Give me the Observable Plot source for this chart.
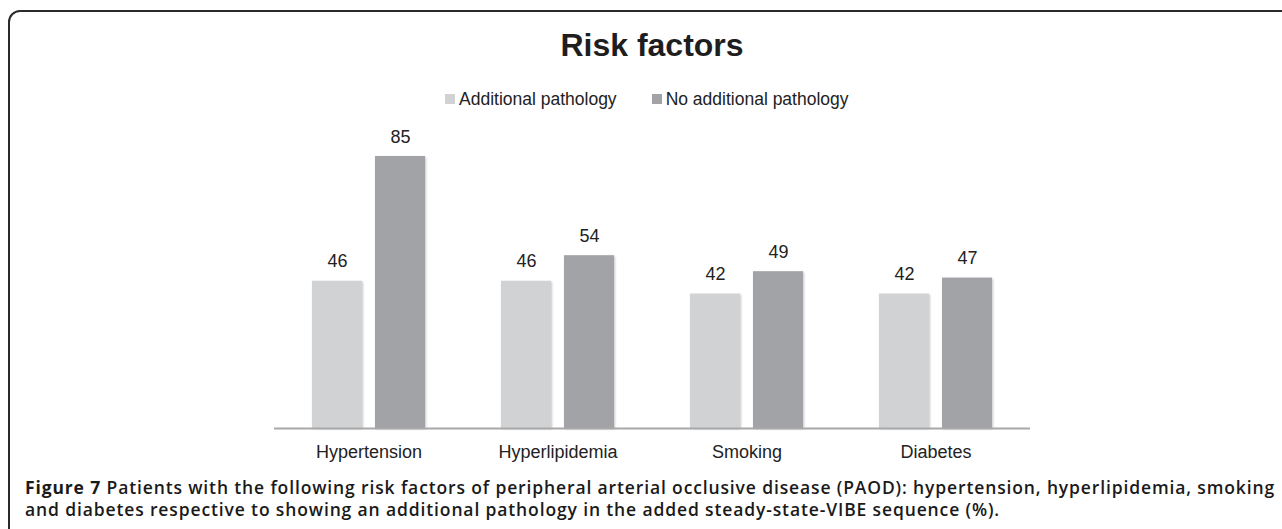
<!DOCTYPE html>
<html>
<head>
<meta charset="utf-8">
<script src="https://cdn.jsdelivr.net/npm/d3@7"></script>
<script src="https://cdn.jsdelivr.net/npm/@observablehq/plot@0.6"></script>
<style>
  html, body { margin: 0; padding: 0; background: #fff; }
  body { width: 1282px; height: 529px; overflow: hidden; position: relative; font-family: "Liberation Sans", Arial, sans-serif; color: #222; }
  #frame { position: absolute; left: 8px; top: 10px; width: 1400px; height: 700px; border: 2px solid #2a2a2a; border-radius: 12px; box-sizing: border-box; }
  #title { position: absolute; left: 452px; width: 400px; top: 29px; text-align: center; font-size: 32px; line-height: 32px; font-weight: bold; color: #1e1e1e; }
  #legend { position: absolute; left: 445px; top: 91px; font-size: 17.5px; line-height: 17.5px; display: flex; align-items: flex-start; white-space: nowrap; color: #222; }
  .item { display: flex; align-items: flex-start; }
  .sw { width: 10px; height: 10px; margin-top: 3px; margin-right: 4px; }
  #chart { position: absolute; left: 0; top: 115px; }
  #chart g[aria-label="bar"] rect { filter: drop-shadow(1px 1px 1.2px rgba(0,0,0,0.22)); }
  #caption { position: absolute; left: 25px; top: 476px; font-family: "Open Sans", sans-serif; font-size: 17.5px; line-height: 22px; font-weight: 600; color: #1a1a1a; white-space: nowrap; }
  #caption div { display: inline-block; }
  #caption b { font-weight: 700; }
</style>
</head>
<body>
<div id="frame"></div>
<div id="title"></div>
<div id="legend"></div>
<div id="chart"></div>
<div id="caption"></div>
<script>
const title = "Risk factors";
const categories = ["Hypertension", "Hyperlipidemia", "Smoking", "Diabetes"];
const seriesNames = ["Additional pathology", "No additional pathology"];
const additionalPathology = [46, 46, 42, 42];
const noAdditionalPathology = [85, 54, 49, 47];
const seriesColors = ["#d1d2d4", "#a2a3a7"];
const captionLabel = "Figure 7";
const captionLines = [
  "Patients with the following risk factors of peripheral arterial occlusive disease (PAOD): hypertension, hyperlipidemia, smoking",
  "and diabetes respective to showing an additional pathology in the added steady-state-VIBE sequence (%)."
];

document.getElementById("title").textContent = title;

const legend = document.getElementById("legend");
seriesNames.forEach((name, i) => {
  const item = document.createElement("div");
  item.className = "item";
  if (i > 0) item.style.marginLeft = "35px";
  const sw = document.createElement("div");
  sw.className = "sw";
  sw.style.background = seriesColors[i];
  const t = document.createElement("span");
  t.textContent = name;
  item.appendChild(sw);
  item.appendChild(t);
  legend.appendChild(item);
});

const cap = document.getElementById("caption");
const l1 = document.createElement("div");
const b = document.createElement("b");
b.textContent = captionLabel;
l1.appendChild(b);
l1.appendChild(document.createTextNode(" " + captionLines[0]));
const l2 = document.createElement("div");
l2.textContent = captionLines[1];
cap.appendChild(l1);
cap.appendChild(document.createElement("br"));
cap.appendChild(l2);
// fit first caption line to the reference line width
const targetWidth = 1250;
const w1 = l1.getBoundingClientRect().width;
const nChars = (captionLabel + " " + captionLines[0]).length;
const ls = (targetWidth - w1) / nChars;
cap.style.letterSpacing = ls + "px";

const rowsA = categories.map((c, i) => ({category: c, series: seriesNames[0], value: additionalPathology[i]}));
const rowsB = categories.map((c, i) => ({category: c, series: seriesNames[1], value: noAdditionalPathology[i]}));

const plot = Plot.plot({
  width: 1282,
  height: 358,
  marginLeft: 274,
  marginRight: 252,
  marginTop: 41,
  marginBottom: 45,
  style: {fontFamily: "'Liberation Sans', Arial, sans-serif", fontSize: "18px", color: "#222", background: "transparent", overflow: "visible"},
  x: {domain: categories, paddingInner: 0.402, paddingOuter: 0.201, tickSize: 0, tickPadding: 17, label: null},
  y: {domain: [0, 85], axis: null},
  marks: [
    Plot.barY(rowsA, {x: "category", y: "value", fill: seriesColors[0], insetRight: 63}),
    Plot.barY(rowsB, {x: "category", y: "value", fill: seriesColors[1], insetLeft: 63}),
    Plot.text(rowsA, {x: "category", y: "value", text: d => String(d.value), dx: -31.5, dy: -14, lineAnchor: "bottom", fill: "#222", fontSize: 18}),
    Plot.text(rowsB, {x: "category", y: "value", text: d => String(d.value), dx: 31.5, dy: -14, lineAnchor: "bottom", fill: "#222", fontSize: 18}),
    Plot.ruleY([0], {stroke: "#a8a8a8", strokeWidth: 2})
  ]
});
document.getElementById("chart").appendChild(plot);
</script>
</body>
</html>
